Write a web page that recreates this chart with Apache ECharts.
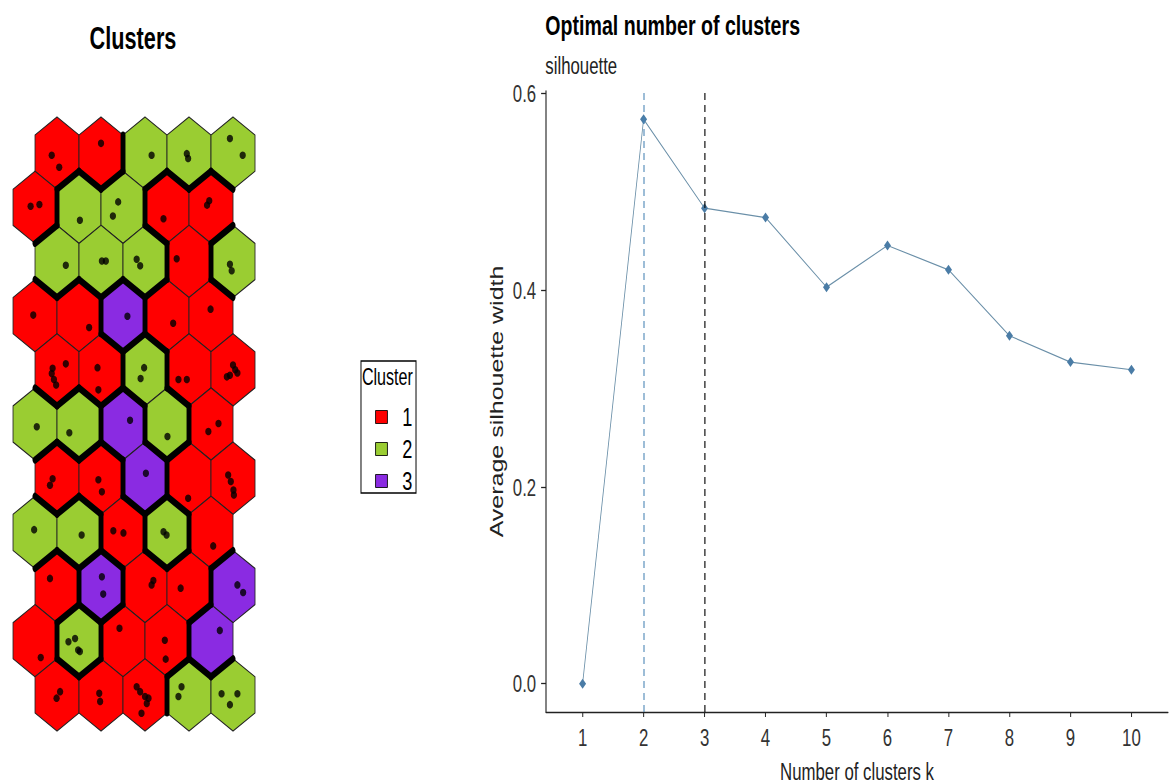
<!DOCTYPE html>
<html>
<head>
<meta charset="utf-8">
<script src="https://cdn.jsdelivr.net/npm/echarts@6/dist/echarts.min.js"></script>
<style>
  html, body { margin: 0; padding: 0; background: #fff; }
  #frame { width: 1174px; height: 783px; overflow: hidden; }
  /* the original figure is squeezed horizontally, so draw wide and squeeze */
  #chart { width: 1677px; height: 783px; transform: scaleX(0.7); transform-origin: 0 0; }
</style>
</head>
<body>
<div id="frame"><div id="chart"></div></div>
<script>
// SOM units, rows listed from top to bottom, 5 units each
const clusterRows = [
  [1, 1, 2, 2, 2],
  [1, 2, 2, 1, 1],
  [2, 2, 2, 1, 2],
  [1, 1, 3, 1, 1],
  [1, 1, 2, 1, 1],
  [2, 2, 3, 2, 1],
  [1, 1, 3, 1, 1],
  [2, 2, 1, 2, 1],
  [1, 3, 1, 1, 3],
  [1, 2, 1, 1, 3],
  [1, 1, 1, 2, 2]
];
const clusterNames = ['1', '2', '3'];

// observations on the map (map coordinates)
const observations = [
  [0.38, 9.96], [0.55, 9.74], [1.5, 10.18], [2.65, 9.96], [3.45, 9.99], [3.48, 9.9], [4.43, 10.27], [4.72, 9.96],
  [-0.1, 9.02], [0.1, 9.05], [1.02, 8.76], [1.89, 9.1], [1.77, 8.84], [2.92, 8.79], [3.96, 9.12], [3.91, 9.04],
  [0.7, 7.93], [1.52, 8.01], [1.61, 8.01], [2.31, 8.04], [2.39, 7.92], [3.22, 8.05], [4.43, 7.95], [4.47, 7.83],
  [-0.04, 7.01], [1.23, 6.78], [2.1, 6.99], [3.14, 6.86], [3.99, 7.12],
  [0.7, 6.11], [0.4, 6.03], [0.38, 5.93], [0.43, 5.82], [0.48, 5.72], [1.42, 6.04], [1.44, 5.63],
  [2.48, 6.04], [2.4, 5.84], [3.26, 5.82], [3.45, 5.82], [4.5, 6.09], [4.55, 6.0], [4.43, 5.9], [4.36, 5.87], [4.6, 5.94],
  [0.04, 4.95], [0.78, 4.84], [2.16, 5.07], [3.01, 4.77], [3.94, 4.86], [4.17, 5.01],
  [0.34, 3.87], [0.4, 3.99], [1.44, 3.97], [1.52, 3.75], [2.52, 4.09], [3.48, 3.63],
  [4.39, 4.06], [4.45, 3.94], [4.51, 3.78], [4.52, 3.69],
  [-0.02, 3.05], [1.06, 2.95], [1.78, 3.03], [2.01, 2.99], [2.92, 3.01], [2.99, 2.95], [4.05, 2.75],
  [0.34, 2.15], [1.52, 2.18], [1.55, 1.86], [2.69, 2.11], [2.65, 2.03], [3.31, 1.97], [4.6, 2.03], [4.73, 1.89],
  [0.13, 0.69], [0.76, 0.98], [0.91, 1.04], [0.98, 0.83], [1.02, 0.8], [1.92, 1.23], [2.95, 1.01], [2.97, 0.66], [4.2, 1.19],
  [0.57, 0.06], [0.49, -0.06], [1.46, 0.03], [1.48, -0.12], [2.31, 0.15], [2.39, 0.06], [2.5, -0.03],
  [2.54, -0.16], [2.42, -0.34], [2.58, -0.06], [3.33, 0.15], [3.26, -0.03], [4.24, 0.02], [4.6, 0.02], [4.43, -0.18]
];

// silhouette
const kValues = [1, 2, 3, 4, 5, 6, 7, 8, 9, 10];
const silhouette = [0, 0.5733, 0.483, 0.4735, 0.4028, 0.4451, 0.4204, 0.3534, 0.3267, 0.3189];
const yTicks = [0, 0.2, 0.4, 0.6];

const FONT = '"Liberation Sans", Arial, sans-serif';
const clusterColors = ['#FF0000', '#9ACD32', '#8A2BE2'];

const nRows = clusterRows.length;
function unitX(r, c) { return c + (r % 2 === 0 ? 0.5 : 0); }
function unitY(r) { return nRows - 1 - r; }

// hex units grouped by cluster
const unitsByCluster = clusterNames.map(() => []);
clusterRows.forEach((row, r) => {
  row.forEach((cl, c) => unitsByCluster[cl - 1].push([unitX(r, c), unitY(r)]));
});

// thick edges between neighbouring units of different clusters
const edges = [];
clusterRows.forEach((row, r) => {
  row.forEach((cl, c) => {
    const x = unitX(r, c), y = unitY(r);
    if (c + 1 < row.length && row[c + 1] !== cl) {
      edges.push([x + 0.5, y + 1 / 3, x + 0.5, y - 1 / 3]);
    }
    if (r + 1 < nRows) {
      const below = clusterRows[r + 1];
      const cl0 = r % 2 === 0 ? c : c - 1;   // lower-left neighbour
      const cl1 = cl0 + 1;                   // lower-right neighbour
      if (cl0 >= 0 && below[cl0] !== cl) edges.push([x - 0.5, y - 1 / 3, x, y - 2 / 3]);
      if (cl1 < below.length && below[cl1] !== cl) edges.push([x, y - 2 / 3, x + 0.5, y - 1 / 3]);
    }
  });
});

const hexOffsets = [[0, 2 / 3], [0.5, 1 / 3], [0.5, -1 / 3], [0, -2 / 3], [-0.5, -1 / 3], [-0.5, 1 / 3]];

function renderHex(params, api) {
  const cx = api.value(0), cy = api.value(1);
  const pts = hexOffsets.map(d => api.coord([cx + d[0], cy + d[1]]));
  return {
    type: 'polygon',
    shape: { points: pts },
    style: { fill: api.visual('color'), stroke: '#222', lineWidth: 1.2 }
  };
}

function renderEdge(params, api) {
  const a = api.coord([api.value(0), api.value(1)]);
  const b = api.coord([api.value(2), api.value(3)]);
  return {
    type: 'line',
    shape: { x1: a[0], y1: a[1], x2: b[0], y2: b[1] },
    style: { stroke: '#000', lineWidth: 7, lineCap: 'round' }
  };
}

const chart = echarts.init(document.getElementById('chart'), null, { renderer: 'svg' });

const hexSeries = clusterNames.map((name, i) => ({
  name: name,
  type: 'custom',
  xAxisIndex: 0,
  yAxisIndex: 0,
  renderItem: renderHex,
  itemStyle: { color: clusterColors[i] },
  data: unitsByCluster[i],
  silent: true,
  z: 1
}));

chart.setOption({
  animation: false,
  textStyle: { fontFamily: FONT },
  title: [
    {
      text: 'Clusters', left: 190, top: 23, textAlign: 'center', padding: 0,
      textStyle: { fontSize: 31, fontWeight: 'bold', color: '#000' }
    },
    {
      text: 'Optimal number of clusters', left: 779, top: 11, padding: 0,
      textStyle: { fontSize: 28, fontWeight: 'bold', color: '#000' }
    },
    {
      text: 'silhouette', left: 779, top: 53, padding: 0,
      textStyle: { fontSize: 24, fontWeight: 'normal', color: '#222' }
    }
  ],
  legend: {
    data: clusterNames,
    orient: 'vertical',
    left: 536,
    top: 404,
    padding: 0,
    icon: 'rect',
    itemWidth: 17,
    itemHeight: 13,
    itemGap: 6,
    selectedMode: false,
    itemStyle: { borderColor: '#000', borderWidth: 1 },
    textStyle: { fontSize: 26, lineHeight: 20, color: '#000', padding: [0, 0, 0, 16] }
  },
  graphic: [
    {
      type: 'rect',
      shape: { x: 515.7, y: 361, width: 78.6, height: 132 },
      style: { fill: 'none', stroke: '#000', lineWidth: 1.4 }
    },
    {
      type: 'text', left: 517, top: 365,
      style: { text: 'Cluster', fontSize: 23, fill: '#000', fontFamily: FONT }
    }
  ],
  grid: [
    { left: 18.6, top: 117, width: 345.7, height: 614, outerBoundsMode: 'none' },
    { left: 780, top: 91, width: 888.6, height: 621, outerBoundsMode: 'none' }
  ],
  xAxis: [
    { gridIndex: 0, type: 'value', min: -0.5, max: 5, show: false },
    {
      gridIndex: 1, type: 'value', min: 0.4, max: 10.6,
      name: 'Number of clusters k', nameLocation: 'middle', nameGap: 47,
      nameTextStyle: { fontSize: 24, color: '#222' },
      axisLine: { onZero: false, lineStyle: { color: '#222', width: 1.3 } },
      axisTick: { customValues: kValues, length: 5, lineStyle: { color: '#222', width: 1.4 } },
      axisLabel: {
        customValues: kValues, fontSize: 24, color: '#333', margin: 13
      },
      splitLine: { show: false }
    }
  ],
  yAxis: [
    { gridIndex: 0, type: 'value', min: -2 / 3, max: 32 / 3, show: false },
    {
      gridIndex: 1, type: 'value', min: -0.0287, max: 0.602,
      name: 'Average silhouette width', nameLocation: 'middle', nameGap: 48,
      nameTextStyle: { fontSize: 25, color: '#222' },
      axisLine: { show: true, onZero: false, lineStyle: { color: '#222', width: 1.6 } },
      axisTick: { show: true, customValues: yTicks, length: 7, lineStyle: { color: '#222', width: 1.3 } },
      axisLabel: {
        customValues: yTicks, fontSize: 24, color: '#333', margin: 14,
        formatter: v => v.toFixed(1)
      },
      splitLine: { show: false }
    }
  ],
  series: hexSeries.concat([
    {
      type: 'custom',
      xAxisIndex: 0,
      yAxisIndex: 0,
      renderItem: renderEdge,
      encode: { x: [0, 2], y: [1, 3] },
      data: edges,
      silent: true,
      z: 2
    },
    {
      type: 'scatter',
      xAxisIndex: 0,
      yAxisIndex: 0,
      data: observations,
      symbol: 'circle',
      symbolSize: [9, 7.5],
      itemStyle: { color: '#000' },
      silent: true,
      z: 3
    },
    {
      name: 'silhouette',
      type: 'line',
      xAxisIndex: 1,
      yAxisIndex: 1,
      data: kValues.map((k, i) => [k, silhouette[i]]),
      symbol: 'diamond',
      symbolSize: [10, 10],
      showSymbol: true,
      itemStyle: { color: '#4a7ca6' },
      lineStyle: { color: '#6a8fa8', width: 1.2 },
      markLine: {
        silent: true,
        symbol: 'none',
        label: { show: false },
        data: [
          { xAxis: 2, lineStyle: { color: '#4682B4', type: [7, 5], width: 1.5 } },
          { xAxis: 3, lineStyle: { color: '#000', type: [7, 5], width: 1.6 } }
        ]
      }
    }
  ])
});
</script>
</body>
</html>
